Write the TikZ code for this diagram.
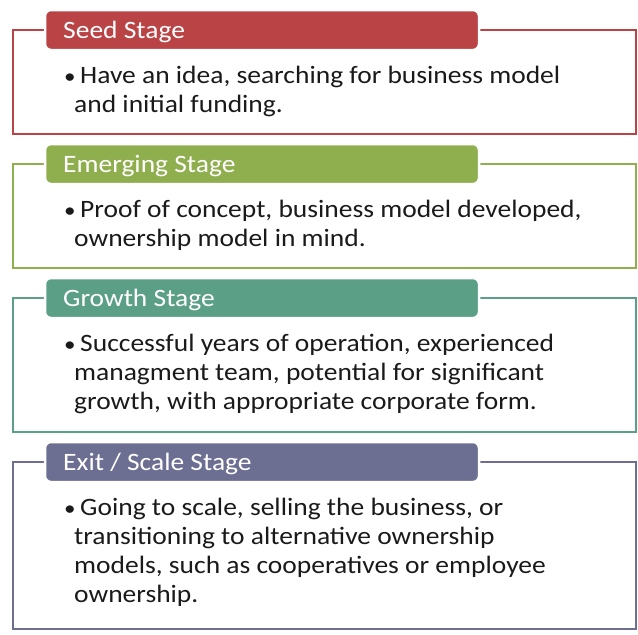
\documentclass[tikz,border=0pt]{standalone}
\usepackage{fontspec}
\setmainfont{Carlito}[FakeStretch=1.1]
\definecolor{cred}{HTML}{B94345}
\definecolor{cgreen}{HTML}{8FAF4E}
\definecolor{cteal}{HTML}{5B9F87}
\definecolor{cpurple}{HTML}{6C6F92}
\definecolor{ctext}{HTML}{1A1A1A}
\begin{document}
\begin{tikzpicture}[x=1pt,y=-1pt,
  frame/.style={line width=1.6pt},
  hdr/.style={rounded corners=6pt, draw=white, line width=2.5pt},
  htext/.style={anchor=base west, inner sep=0pt, text=white, font=\fontsize{25}{30}\selectfont},
  btext/.style={anchor=base west, inner sep=0pt, text=ctext, font=\fontsize{25}{30}\selectfont},
  bul/.style={anchor=base west, inner sep=0pt, text=ctext, font=\fontsize{21}{24}\selectfont}]
\useasboundingbox (0,0) rectangle (638,635);
% Stage 1
\draw[frame, draw=cred] (13,30) rectangle (636,134);
\filldraw[hdr, fill=cred] (45,10) rectangle (479,50);
\node[htext] (h1) at (63,38) {Seed Stage};
\node[bul] (b1) at (64,83) {•};
\node[btext] (l11) at (80,83) {Have an idea, searching for business model};
\node[btext] (l12) at (74,112) {and initial funding.};
% Stage 2
\draw[frame, draw=cgreen] (13,164) rectangle (636,268);
\filldraw[hdr, fill=cgreen] (45,144) rectangle (479,184);
\node[htext] (h2) at (63,172) {Emerging Stage};
\node[bul] (b2) at (64,217) {•};
\node[btext] (l21) at (80,217) {Proof of concept, business model developed,};
\node[btext] (l22) at (74,246) {ownership model in mind.};
% Stage 3
\draw[frame, draw=cteal] (13,298) rectangle (636,432);
\filldraw[hdr, fill=cteal] (45,278) rectangle (479,318);
\node[htext] (h3) at (63,306) {Growth Stage};
\node[bul] (b3) at (64,351) {•};
\node[btext] (l31) at (80,351) {Successful years of operation, experienced};
\node[btext] (l32) at (74,380) {managment team, potential for significant};
\node[btext] (l33) at (74,409) {growth, with appropriate corporate form.};
% Stage 4
\draw[frame, draw=cpurple] (13,462) rectangle (636,629);
\filldraw[hdr, fill=cpurple] (45,442) rectangle (479,482);
\node[htext] (h4) at (63,470) {Exit / Scale Stage};
\node[bul] (b4) at (64,515) {•};
\node[btext] (l41) at (80,515) {Going to scale, selling the business, or};
\node[btext] (l42) at (74,544) {transitioning to alternative ownership};
\node[btext] (l43) at (74,573) {models, such as cooperatives or employee};
\node[btext] (l44) at (74,602) {ownership.};
\end{tikzpicture}
\end{document}
